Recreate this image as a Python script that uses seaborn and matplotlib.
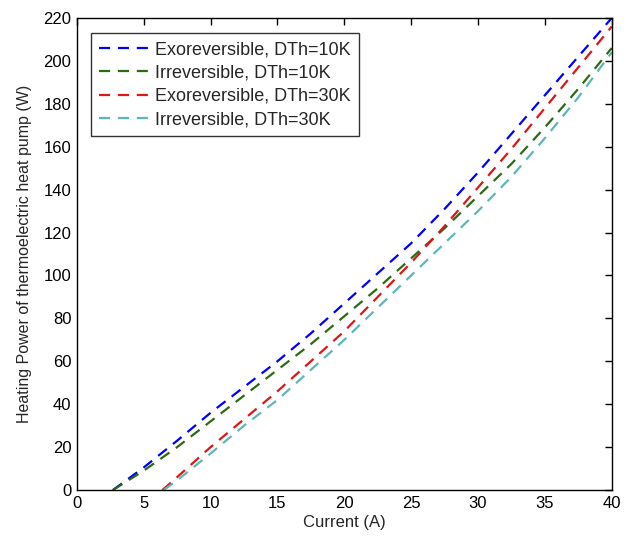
import numpy as np
import pandas as pd
import matplotlib
matplotlib.use('Agg')
import matplotlib.pyplot as plt
import seaborn as sns

# Values (current in A, heating power in W)
exo10_i = [2.7, 5, 7.5, 10, 12.5, 15, 17.5, 20, 22.5, 25, 27.5, 30, 32.5, 35, 37.5, 40]
exo10_p = [0, 10.5, 23, 36, 48, 60, 73, 87, 101, 115, 131, 148, 166, 184, 202, 220]

irr10_i = [2.7, 5, 7.5, 10, 12.5, 15, 17.5, 20, 22.5, 25, 27.5, 30, 32.5, 35, 37.5, 40]
irr10_p = [0, 9, 20, 32, 44, 56, 68, 81, 94, 108, 122, 137, 152, 169, 187, 206]

exo30_i = [6.4, 7.5, 10, 12.5, 15, 17.5, 20, 22.5, 25, 27.5, 30, 32.5, 35, 37.5, 40]
exo30_p = [0, 6, 20, 33, 46, 60, 74, 90, 106, 123, 141, 159, 178, 197, 216]

irr30_i = [6.5, 7.5, 10, 12.5, 15, 17.5, 20, 22.5, 25, 27.5, 30, 32.5, 35, 37.5, 40]
irr30_p = [0, 4.5, 17, 30, 42, 56, 70, 85, 100, 115, 130, 146, 164, 183, 204]

labels = ['Exoreversible, DTh=10K', 'Irreversible, DTh=10K',
          'Exoreversible, DTh=30K', 'Irreversible, DTh=30K']
colors = ['#0000FF', '#2C6A14', '#E01515', '#5CB8B8']

df = pd.concat([
    pd.DataFrame({'current': i, 'power': p, 'series': lab})
    for i, p, lab in zip([exo10_i, irr10_i, exo30_i, irr30_i],
                         [exo10_p, irr10_p, exo30_p, irr30_p], labels)
], ignore_index=True)

sns.set_style('white')
plt.rcParams['font.family'] = ['Liberation Sans', 'DejaVu Sans']

fig = plt.figure(figsize=(6.3, 5.37), dpi=100)
ax = fig.add_axes([0.122, 0.0875, 0.849, 0.879])

sns.lineplot(data=df, x='current', y='power', hue='series', style='series',
             hue_order=labels, style_order=labels,
             palette=dict(zip(labels, colors)),
             dashes={lab: (5, 3.5) for lab in labels},
             linewidth=1.6, estimator=None, sort=False, ax=ax)

ax.set_xlim(0, 40)
ax.set_ylim(0, 220)
ax.set_xticks(np.arange(0, 41, 5))
ax.set_yticks(np.arange(0, 221, 20))
ax.tick_params(direction='in', length=5, width=1, top=True, right=True,
               labelsize=12, colors='black', pad=4)
for s in ax.spines.values():
    s.set_color('black')
    s.set_linewidth(1)

ax.set_xlabel('Current (A)', fontsize=12, labelpad=3)
ax.set_ylabel('Heating Power of thermoelectric heat pump (W)', fontsize=11.5, labelpad=8)

handles, labs = ax.get_legend_handles_labels()
leg = ax.legend(handles, labs, loc='upper left', bbox_to_anchor=(0.026, 0.968),
                fontsize=13, frameon=True, fancybox=False, edgecolor='black',
                handlelength=3.0, handletextpad=0.1, labelspacing=0.35,
                borderpad=0.45, borderaxespad=0)
leg.get_frame().set_linewidth(1)

fig.savefig('out.png', dpi=100, facecolor='white')
